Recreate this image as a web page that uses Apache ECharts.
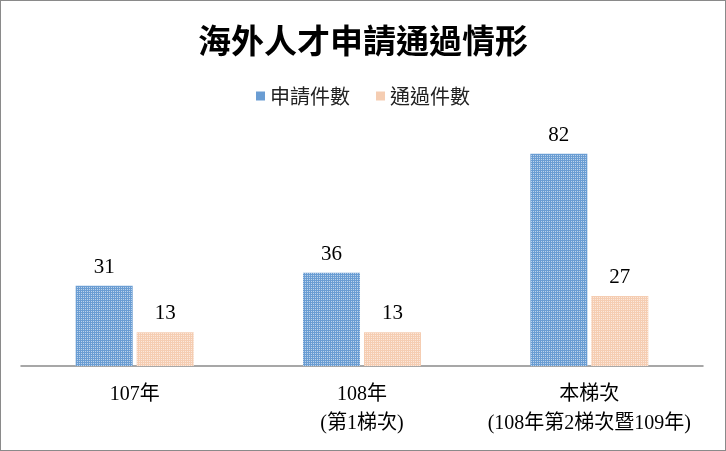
<!DOCTYPE html>
<html><head><meta charset="utf-8">
<script src="https://cdn.jsdelivr.net/npm/echarts@6/dist/echarts.min.js"></script>
<style>
html,body{margin:0;padding:0;background:#fff;}
#wrap{position:absolute;left:0;top:0;width:726px;height:451px;border:1px solid #8a8a8a;box-sizing:border-box;}
#c{position:absolute;left:0;top:0;width:724px;height:449px;}
</style></head>
<body><div id="wrap"><div id="c"></div></div>
<script>
const categories = ['107年', '108年\n(第1梯次)', '本梯次\n(108年第2梯次暨109年)'];
const seriesNames = ['申請件數', '通過件數'];
const applied = [31, 36, 82];
const approved = [13, 13, 27];

const blueColor = '#6a9dd3';
const peachColor = '#f5cdb2';
const dotDecal = {
  symbol: 'rect', symbolSize: 1, color: 'rgba(255,255,255,0.55)',
  dashArrayX: [1, 1], dashArrayY: [1, 1], rotation: 0
};

const chart = echarts.init(document.getElementById('c'), null, { renderer: 'canvas' });
const serif = '"Liberation Serif", "Noto Sans CJK TC", serif';
chart.setOption({
  animation: false,
  backgroundColor: '#fff',
  title: {
    text: '海外人才申請通過情形',
    left: 'center', top: 18,
    textStyle: { fontFamily: '"Noto Sans CJK TC"', fontSize: 33, fontWeight: 'bold', color: '#000' }
  },
  legend: {
    data: [
      { name: seriesNames[0], itemStyle: { color: blueColor, decal: 'none' } },
      { name: seriesNames[1], itemStyle: { color: peachColor, decal: 'none' } }
    ],
    top: 80, left: 'center',
    icon: 'rect', itemWidth: 9, itemHeight: 9, itemGap: 26,
    textStyle: { fontFamily: '"Noto Sans CJK TC"', fontSize: 20, color: '#222' }
  },
  grid: { left: 20, right: 22, top: 132, bottom: 84, containLabel: false },
  xAxis: {
    type: 'category', data: categories,
    axisLine: { lineStyle: { color: '#8a8a8a', width: 1.5 } },
    axisTick: { show: false },
    axisLabel: { fontFamily: serif, fontSize: 20, color: '#000', lineHeight: 29, margin: 14, interval: 0 }
  },
  yAxis: { type: 'value', min: 0, max: 90, show: false, splitLine: { show: false } },
  series: [
    {
      name: seriesNames[0], type: 'bar', data: applied, barWidth: 57, barGap: '7%',
      itemStyle: { color: blueColor, decal: dotDecal },
      label: { show: true, position: 'top', distance: 8, fontFamily: serif, fontSize: 21, color: '#000' }
    },
    {
      name: seriesNames[1], type: 'bar', data: approved, barWidth: 57,
      itemStyle: { color: peachColor, decal: dotDecal },
      label: { show: true, position: 'top', distance: 8, fontFamily: serif, fontSize: 21, color: '#000' }
    }
  ]
});
</script></body></html>
